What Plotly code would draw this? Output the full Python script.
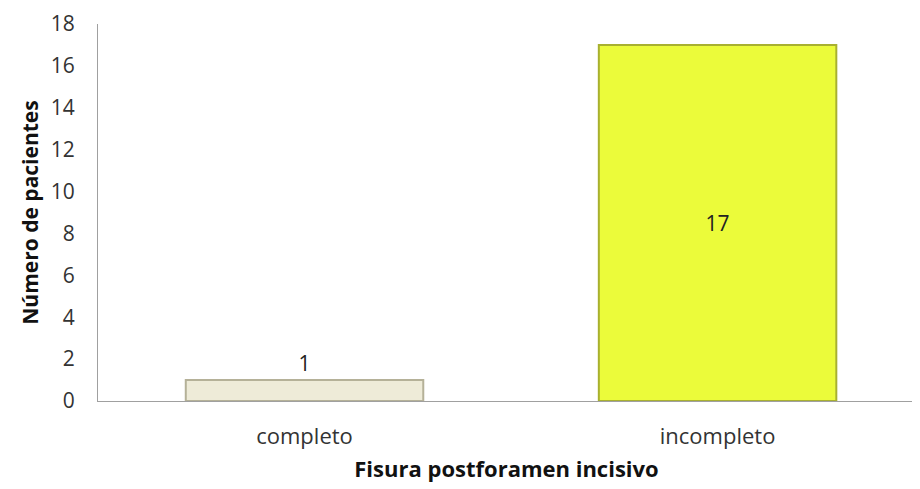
import plotly.graph_objects as go

categories = ["completo", "incompleto"]
values = [1, 17]
labels = ["1", "17"]
y_ticks = [0, 2, 4, 6, 8, 10, 12, 14, 16, 18]

fill_colors = ["#EEEBD8", "#EBFB3A"]
line_colors = ["#B5B198", "#A8B030"]

FONT = "Open Sans, Liberation Sans, sans-serif"

fig = go.Figure()
fig.add_trace(go.Bar(
    x=list(range(len(categories))),
    y=values,
    width=0.575,
    marker=dict(color=fill_colors, line=dict(color=line_colors, width=2)),
    text=labels,
    textposition=["outside", "inside"],
    insidetextanchor="middle",
    textfont=dict(color="#222222", size=21, family=FONT),
    cliponaxis=False,
    constraintext="none",
))

fig.update_layout(
    width=920, height=489,
    margin=dict(l=90, r=13, t=16, b=96),
    plot_bgcolor="white", paper_bgcolor="white",
    showlegend=False,
    font=dict(family=FONT, color="#333333"),
    xaxis=dict(
        tickmode="array", tickvals=list(range(len(categories))), ticktext=categories,
        range=[-0.5, 1.478], automargin=False,
        showline=True, linecolor="#A0A0A0", linewidth=1,
        showgrid=False, zeroline=False, ticks="",
        tickfont=dict(size=22, color="#333333"),
        ticklabelstandoff=16,
        title=dict(text="<b>Fisura postforamen incisivo</b>", font=dict(size=22, color="#111111"), standoff=12),
    ),
    yaxis=dict(
        range=[0, 18], tickvals=y_ticks, automargin=False,
        ticklabeloverflow="allow",
        showline=True, linecolor="#A0A0A0", linewidth=1,
        showgrid=False, zeroline=False, ticks="",
        tickfont=dict(size=21, color="#333333"),
        ticklabelstandoff=18,
        title=dict(text="<b>Número de pacientes</b>", font=dict(size=21, color="#111111"), standoff=6),
    ),
)

fig.write_html("out.html")
